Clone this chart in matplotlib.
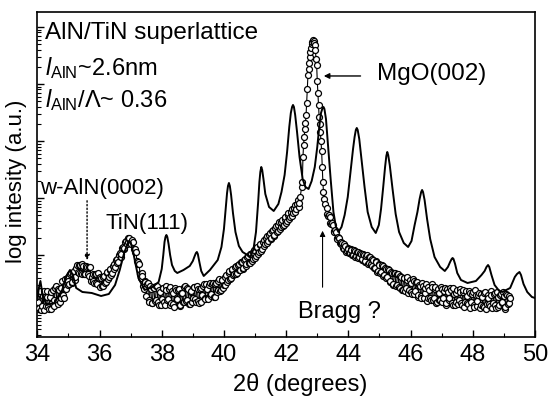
import matplotlib
matplotlib.use("Agg")
import matplotlib.pyplot as plt
import numpy as np

plt.rcParams['font.family'] = ['Liberation Sans', 'DejaVu Sans']
plt.rcParams['mathtext.fontset'] = 'custom'
plt.rcParams['mathtext.rm'] = 'Liberation Sans'
plt.rcParams['mathtext.it'] = 'Liberation Sans:italic'

# ---- superlattice (solid line): 2theta (deg), log intensity (a.u.)
line_x = [34.00, 34.05, 34.10, 34.17, 34.30, 34.55, 34.80, 34.95, 35.05, 35.15,
          35.25, 35.45, 35.75, 36.05, 36.30, 36.50, 36.65, 36.80, 36.92, 37.00,
          37.10, 37.25, 37.45, 37.70, 37.90,
          38.00, 38.05, 38.09, 38.12, 38.15, 38.18, 38.22, 38.27, 38.33, 38.42, 38.50,
          38.70, 38.90, 39.00, 39.06, 39.10, 39.13, 39.16, 39.21, 39.27, 39.35, 39.55,
          39.80, 39.92, 40.00, 40.06, 40.10, 40.13, 40.16, 40.19, 40.23, 40.29, 40.37,
          40.48, 40.60, 40.85,
          40.95, 41.03, 41.10, 41.14, 41.17, 41.20, 41.23, 41.27, 41.33, 41.45, 41.60, 41.75,
          41.85, 41.95, 42.03, 42.10, 42.15, 42.19, 42.22, 42.25, 42.29, 42.35, 42.43,
          42.53, 42.62, 42.72, 42.82,
          42.92, 43.00, 43.07, 43.12, 43.17, 43.20, 43.23, 43.28, 43.35, 43.43, 43.52,
          43.60, 43.68, 43.78,
          43.88, 43.98, 44.07, 44.15, 44.20, 44.24, 44.27, 44.30, 44.35, 44.42, 44.52,
          44.62, 44.75, 44.88, 44.98,
          45.05, 45.12, 45.18, 45.22, 45.25, 45.28, 45.33, 45.42, 45.52, 45.63, 45.78,
          45.92, 46.03,
          46.13, 46.22, 46.29, 46.34, 46.37, 46.40, 46.45, 46.53, 46.63, 46.77, 46.95,
          47.10, 47.20, 47.27, 47.32, 47.35, 47.38, 47.43, 47.50, 47.62, 47.83, 48.10,
          48.28, 48.38, 48.44, 48.49, 48.53, 48.60, 48.70, 48.85, 48.95, 49.20, 49.35,
          49.42, 49.50, 49.55, 49.63, 49.75, 49.90, 50.00]
line_y = [37, 49, 56, 42, 32, 34, 47, 62, 67, 61,
          49, 45, 44, 41, 43, 52, 67, 85, 94, 95,
          82, 59, 47, 50, 55,
          68, 82, 95, 100, 102, 100, 93, 82, 72, 66, 64,
          67, 71, 76, 81, 84, 85, 83, 75, 66, 61, 67,
          77, 90, 108, 130, 144, 151, 154, 151, 142, 124, 105,
          91, 85, 80,
          88, 105, 135, 155, 165, 170, 167, 158, 143, 130, 126, 133,
          145, 162, 185, 210, 224, 230, 232, 230, 222, 205, 180,
          158, 150, 148, 156,
          170, 190, 212, 224, 229, 230, 228, 218, 190, 158, 125,
          110, 105, 110,
          122, 140, 165, 188, 200, 207, 209, 207, 198, 178, 150,
          125, 110, 104, 112,
          128, 150, 170, 181, 185, 182, 172, 148, 123, 105, 94,
          90, 96,
          112, 125, 138, 145, 147, 145, 137, 118, 98, 80, 70,
          66, 70, 75, 78, 79, 78, 73, 64, 57, 54, 56,
          62, 66, 70, 72, 70, 62, 52, 46, 45, 49, 60,
          63, 65, 62, 53, 45, 40, 39]

# ---- measured data (open circles), main points of the scan
circ_x = [34.00, 34.05, 34.10, 34.15, 34.20, 34.25, 34.30, 34.35, 34.40, 34.45,
          34.50, 34.55, 34.60, 34.65, 34.70, 34.75, 34.80, 34.85, 34.90, 34.95,
          35.00, 35.05, 35.10, 35.15, 35.20, 35.25, 35.30, 35.35, 35.40, 35.45,
          35.50, 35.55, 35.60, 35.65, 35.70, 35.75, 35.80, 35.85, 35.90, 35.95,
          36.00, 36.05, 36.10, 36.15, 36.20, 36.25, 36.30, 36.35, 36.40, 36.45,
          36.50, 36.55, 36.60, 36.65, 36.70, 36.75, 36.80, 36.85, 36.90, 36.95,
          37.00, 37.05, 37.10, 37.15, 37.20, 37.25, 37.30, 37.35, 37.40, 37.45,
          37.50, 37.55, 37.60, 37.65, 37.70, 37.75, 37.80, 37.85, 37.90, 37.95,
          38.00, 38.05, 38.10, 38.15, 38.20, 38.25, 38.30, 38.35, 38.40, 38.45,
          38.50, 38.55, 38.60, 38.65, 38.70, 38.75, 38.80, 38.85, 38.90, 38.95,
          39.00, 39.05, 39.10, 39.15, 39.20, 39.25, 39.30, 39.35, 39.40, 39.45,
          39.50, 39.55, 39.60, 39.65, 39.70, 39.75, 39.80, 39.85, 39.90, 39.95,
          40.00, 40.05, 40.10, 40.15, 40.20, 40.25, 40.30, 40.35, 40.40, 40.45,
          40.50, 40.55, 40.60, 40.65, 40.70, 40.75, 40.80, 40.85, 40.90, 40.95,
          41.00, 41.05, 41.10, 41.15, 41.20, 41.25, 41.30, 41.35, 41.40, 41.45,
          41.50, 41.55, 41.60, 41.65, 41.70, 41.75, 41.80, 41.85, 41.90, 41.95,
          42.00, 42.05, 42.10, 42.15, 42.20, 42.25, 42.30, 42.35, 42.40, 42.45,
          42.50, 42.52, 42.54, 42.56, 42.58, 42.60, 42.62, 42.64, 42.66, 42.68,
          42.70, 42.72, 42.74, 42.76, 42.78, 42.80, 42.82, 42.84, 42.86, 42.88,
          42.90, 42.92, 42.94, 42.96, 42.98, 43.00, 43.02, 43.04, 43.06, 43.08,
          43.10, 43.12, 43.14, 43.16, 43.18, 43.20, 43.22, 43.24,
          43.30, 43.35, 43.40, 43.45, 43.50, 43.55, 43.60, 43.65, 43.70, 43.75,
          43.80, 43.85, 43.90, 43.95, 44.00, 44.05, 44.10, 44.15, 44.20, 44.25,
          44.30, 44.35, 44.40, 44.45, 44.50, 44.55, 44.60, 44.65, 44.70, 44.75,
          44.80, 44.85, 44.90, 44.95, 45.00, 45.05, 45.10, 45.15, 45.20, 45.25,
          45.30, 45.35, 45.40, 45.45, 45.50, 45.55, 45.60, 45.65, 45.70, 45.75,
          45.80, 45.85, 45.90, 45.95, 46.00, 46.05, 46.10, 46.15, 46.20, 46.25,
          46.30, 46.35, 46.40, 46.45, 46.50, 46.55, 46.60, 46.65, 46.70, 46.75,
          46.80, 46.85, 46.90, 46.95, 47.00, 47.05, 47.10, 47.15, 47.20, 47.25,
          47.30, 47.35, 47.40, 47.45, 47.50, 47.55, 47.60, 47.65, 47.70, 47.75,
          47.80, 47.85, 47.90, 47.95, 48.00, 48.05, 48.10, 48.15, 48.20, 48.25,
          48.30, 48.35, 48.40, 48.45, 48.50, 48.55, 48.60, 48.65, 48.70, 48.75,
          48.80, 48.85, 48.90, 48.95, 49.00, 49.05, 49.10, 49.15, 49.20]
circ_y = [44, 29, 46, 31, 27, 40, 46, 31, 40, 28,
          47, 37, 51, 33, 47, 39, 56, 39, 52, 59,
          52, 63, 54, 63, 57, 69, 65, 72, 64, 73,
          63, 69, 70, 61, 70, 60, 56, 63, 54, 64,
          50, 59, 51, 61, 55, 65, 60, 68, 64, 73,
          70, 78, 75, 84, 83, 90, 89, 96, 95, 99,
          95, 97, 88, 88, 76, 75, 63, 64, 51, 56,
          41, 54, 35, 48, 34, 49, 37, 51, 32, 45,
          38, 49, 32, 47, 38, 50, 34, 44, 30, 47,
          38, 48, 32, 44, 35, 51, 37, 48, 33, 46,
          39, 50, 35, 48, 34, 49, 42, 53, 38, 48,
          38, 54, 43, 54, 40, 54, 47, 58, 47, 57,
          52, 60, 55, 64, 58, 67, 62, 70, 63, 72,
          67, 75, 68, 77, 71, 80, 74, 83, 76, 85,
          79, 89, 83, 92, 86, 95, 91, 99, 94, 102,
          98, 106, 101, 109, 105, 112, 108, 115, 111, 118,
          114, 122, 118, 125, 121, 129, 125, 133, 130, 140,
          150, 155, 180, 192, 200, 208, 214, 222, 234, 248,
          262, 268, 274, 280, 285, 289, 293, 295, 297, 296,
          294, 292, 287, 278, 272, 256, 244, 232, 220, 213,
          205, 196, 186, 170, 155, 145, 138, 133,
          129, 121, 120, 113, 112, 105, 105, 98, 99, 93,
          94, 88, 91, 86, 88, 84, 87, 82, 86, 81,
          85, 80, 83, 78, 82, 76, 82, 74, 80, 71,
          77, 69, 75, 66, 72, 65, 71, 62, 68, 60,
          67, 56, 64, 53, 64, 52, 63, 49, 60, 47,
          59, 49, 60, 47, 54, 43, 56, 46, 55, 42,
          51, 39, 51, 44, 53, 39, 47, 37, 50, 39,
          50, 35, 44, 37, 48, 39, 49, 34, 45, 39,
          47, 32, 43, 35, 47, 37, 45, 32, 47, 35,
          41, 33, 44, 35, 45, 30, 42, 36, 44, 32,
          40, 30, 45, 33, 39, 31, 42, 34, 44, 29,
          40, 32, 43, 35, 41, 30, 42, 34, 39]

# ---- measured data (open circles), interleaved points of the scan
circ2_x = [34.025, 34.075, 34.125, 34.175, 34.225, 34.275, 34.325, 34.375, 34.425, 34.475,
           34.525, 34.575, 34.625, 34.675, 34.725, 34.775, 34.825, 34.875, 34.925, 34.975,
           35.025, 35.075, 35.125, 35.175, 35.225, 35.275, 35.325, 35.375, 35.425, 35.475,
           35.525, 35.575, 35.625, 35.675, 35.725, 35.775, 35.825, 35.875, 35.925, 35.975,
           36.025, 36.075, 36.125, 36.175, 36.225, 36.275, 36.325, 36.375, 36.425, 36.475,
           36.525, 36.575, 36.625, 36.675, 36.725, 36.775, 36.825, 36.875, 36.925, 36.975,
           37.025, 37.075, 37.125, 37.175, 37.225, 37.275, 37.325, 37.375, 37.425, 37.475,
           37.525, 37.575, 37.625, 37.675, 37.725, 37.775, 37.825, 37.875, 37.925, 37.975,
           38.025, 38.075, 38.125, 38.175, 38.225, 38.275, 38.325, 38.375, 38.425, 38.475,
           38.525, 38.575, 38.625, 38.675, 38.725, 38.775, 38.825, 38.875, 38.925, 38.975,
           39.025, 39.075, 39.125, 39.175, 39.225, 39.275, 39.325, 39.375, 39.425, 39.475,
           39.525, 39.575, 39.625, 39.675, 39.725, 39.775, 39.825, 39.875, 39.925, 39.975,
           40.025, 40.075, 40.125, 40.175, 40.225, 40.275, 40.325, 40.375, 40.425, 40.475,
           40.525, 40.575, 40.625, 40.675, 40.725, 40.775, 40.825, 40.875, 40.925, 40.975,
           41.025, 41.075, 41.125, 41.175, 41.225, 41.275, 41.325, 41.375, 41.425, 41.475,
           41.525, 41.575, 41.625, 41.675, 41.725, 41.775, 41.825, 41.875, 41.925, 41.975,
           42.025, 42.075, 42.125, 42.175, 42.225, 42.275, 42.325, 42.375, 42.425,
           43.325, 43.375, 43.425, 43.475, 43.525, 43.575, 43.625, 43.675, 43.725, 43.775,
           43.825, 43.875, 43.925, 43.975, 44.025, 44.075, 44.125, 44.175, 44.225, 44.275,
           44.325, 44.375, 44.425, 44.475, 44.525, 44.575, 44.625, 44.675, 44.725, 44.775,
           44.825, 44.875, 44.925, 44.975, 45.025, 45.075, 45.125, 45.175, 45.225, 45.275,
           45.325, 45.375, 45.425, 45.475, 45.525, 45.575, 45.625, 45.675, 45.725, 45.775,
           45.825, 45.875, 45.925, 45.975, 46.025, 46.075, 46.125, 46.175, 46.225, 46.275,
           46.325, 46.375, 46.425, 46.475, 46.525, 46.575, 46.625, 46.675, 46.725, 46.775,
           46.825, 46.875, 46.925, 46.975, 47.025, 47.075, 47.125, 47.175, 47.225, 47.275,
           47.325, 47.375, 47.425, 47.475, 47.525, 47.575, 47.625, 47.675, 47.725, 47.775,
           47.825, 47.875, 47.925, 47.975, 48.025, 48.075, 48.125, 48.175, 48.225, 48.275,
           48.325, 48.375, 48.425, 48.475, 48.525, 48.575, 48.625, 48.675, 48.725, 48.775,
           48.825, 48.875, 48.925, 48.975, 49.025, 49.075, 49.125, 49.175]
circ2_y = [35, 44, 27, 41, 46, 31, 40, 28, 45, 34,
           31, 49, 36, 48, 35, 49, 42, 58, 48, 56,
           53, 64, 55, 66, 60, 72, 64, 72, 63, 71,
           63, 71, 63, 70, 56, 63, 54, 63, 53, 59,
           60, 51, 60, 54, 64, 58, 67, 62, 71, 68,
           77, 74, 82, 80, 89, 88, 95, 93, 99, 94,
           93, 95, 85, 85, 73, 73, 59, 61, 48, 55,
           53, 37, 51, 34, 50, 36, 51, 35, 47, 32,
           49, 35, 51, 37, 48, 32, 46, 33, 49, 37,
           47, 31, 44, 35, 50, 36, 49, 33, 45, 35,
           50, 38, 51, 36, 48, 35, 51, 39, 53, 39,
           52, 41, 53, 40, 53, 45, 56, 46, 57, 49,
           52, 62, 57, 66, 59, 68, 63, 71, 64, 73,
           67, 75, 69, 78, 73, 81, 74, 83, 78, 87,
           81, 90, 85, 93, 88, 97, 93, 101, 96, 104,
           99, 107, 102, 111, 106, 115, 110, 117, 112, 120,
           116, 124, 120, 128, 124, 132, 128, 137, 134,
           123, 122, 114, 114, 106, 107, 99, 100, 94, 95,
           89, 93, 85, 89, 84, 88, 82, 87, 80, 85,
           79, 84, 77, 83, 75, 81, 73, 80, 73, 78,
           69, 76, 65, 73, 64, 72, 61, 69, 59, 68,
           55, 65, 52, 64, 51, 63, 50, 61, 47, 59,
           46, 57, 44, 57, 45, 58, 43, 55, 40, 52,
           41, 54, 39, 49, 36, 50, 39, 53, 37, 48,
           34, 48, 37, 50, 35, 46, 32, 48, 37, 49,
           34, 49, 32, 44, 33, 48, 34, 45, 30, 46,
           34, 46, 29, 43, 32, 47, 31, 42, 29, 43,
           31, 44, 28, 42, 33, 46, 29, 43, 32, 45,
           30, 42, 34, 45, 28, 43, 33, 41]

x_ticks = [34, 36, 38, 40, 42, 44, 46, 48, 50]

# full scan ordered by angle
scan = sorted(zip(circ_x + circ2_x, circ_y + circ2_y))
scan_x = [p[0] for p in scan]
scan_y = [p[1] for p in scan]

fig = plt.figure(figsize=(5.55, 3.99), dpi=100)
ax = fig.add_axes([0.0672, 0.1554, 0.8968, 0.8146])

ax.plot(scan_x, scan_y, '-', color='black', lw=0.8, zorder=2)
ax.plot(scan_x, scan_y, 'o', ms=4.3, mfc='white', mec='black', mew=0.9, zorder=3)
ax.plot(line_x, line_y, '-', color='black', lw=1.4, zorder=4)

ax.set_xlim(34, 50)
ax.set_ylim(0, 325)
ax.set_xticks(x_ticks)
ax.set_xticklabels([str(t) for t in x_ticks], fontsize=17)
ax.set_xticks(np.arange(35, 50, 2), minor=True)

# log-style decade ticks on the (log) intensity axis
dec = 57.0
majors = [25 + dec * k for k in range(6)]
minors = [25 + dec * (k + np.log10(m)) for k in range(-1, 6) for m in range(2, 10)]
minors = [m for m in minors if 0 < m < 325]
ax.set_yticks(majors)
ax.set_yticks(minors, minor=True)
ax.set_yticklabels([])
ax.tick_params(axis='both', which='major', direction='in', length=5, width=1,
               top=False, right=False)
ax.tick_params(axis='both', which='minor', direction='in', length=3, width=0.8,
               top=False, right=False)
ax.tick_params(axis='x', pad=5)
for s in ax.spines.values():
    s.set_linewidth(1.2)

ax.set_xlabel('2θ (degrees)', fontsize=17)
ax.xaxis.set_label_coords(0.528, -0.112)
ax.set_ylabel('log intesity (a.u.)', fontsize=16)
ax.yaxis.set_label_coords(-0.02, 0.48)

ax.text(34.25, 304, 'AlN/TiN superlattice', fontsize=17.5, va='center', ha='left')
ax.text(34.25, 269, r'$\mathit{l}_{\mathrm{AlN}}$~2.6nm', fontsize=17, va='center', ha='left')
ax.text(34.25, 237, r'$\mathit{l}_{\mathrm{AlN}}$/$\Lambda$~ 0.36', fontsize=17, va='center', ha='left')
ax.text(34.1, 148, 'w-AlN(0002)', fontsize=16, va='center', ha='left')
ax.text(36.18, 113, 'TiN(111)', fontsize=16, va='center', ha='left')
ax.text(44.93, 263, 'MgO(002)', fontsize=17.5, va='center', ha='left')
ax.text(42.38, 25, 'Bragg ?', fontsize=17, va='center', ha='left')

ax.annotate('', xy=(35.6, 74), xytext=(35.6, 139),
            arrowprops=dict(arrowstyle='-|>', linestyle=':', lw=1, color='black',
                            mutation_scale=8))
ax.annotate('', xy=(43.12, 261), xytext=(44.48, 261),
            arrowprops=dict(arrowstyle='-|>', lw=1, color='black', mutation_scale=8))
ax.annotate('', xy=(43.17, 109), xytext=(43.17, 47),
            arrowprops=dict(arrowstyle='-|>', lw=0.8, color='black', mutation_scale=8))

fig.savefig('out.png', dpi=100)
